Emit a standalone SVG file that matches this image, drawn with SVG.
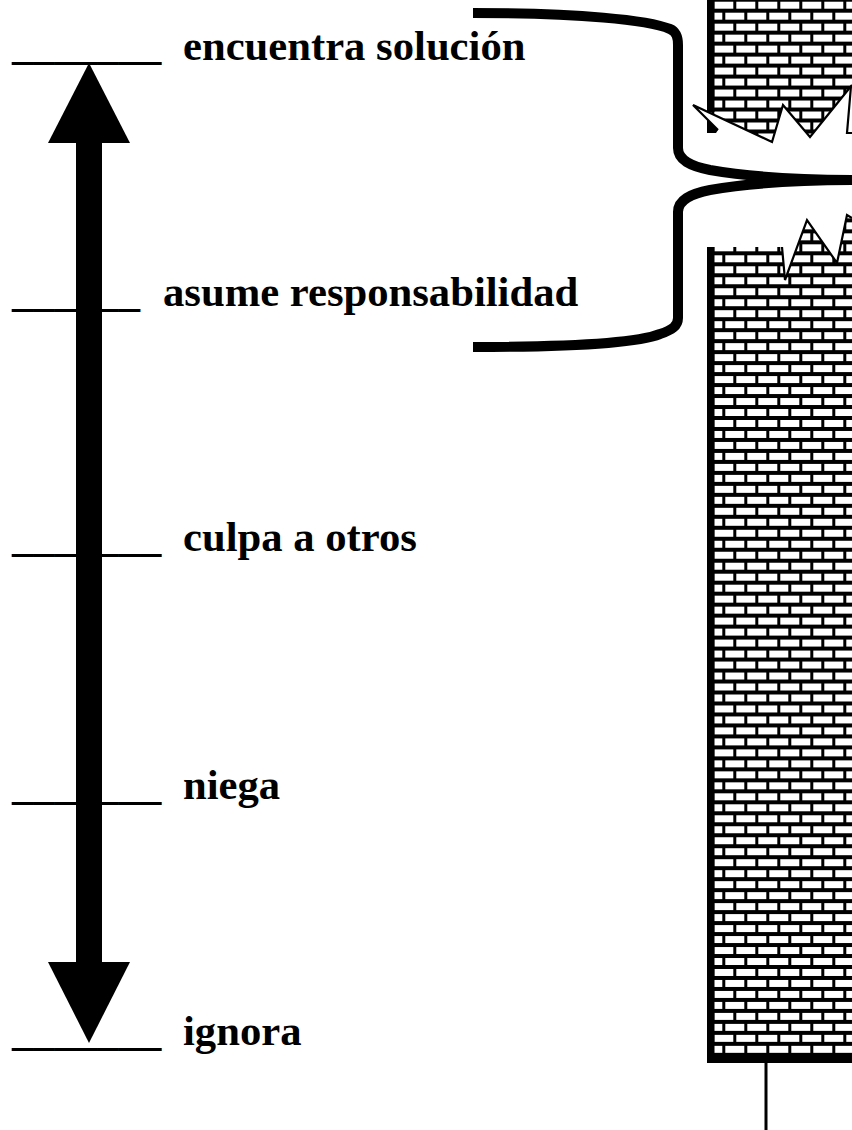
<svg xmlns="http://www.w3.org/2000/svg" width="852" height="1130" viewBox="0 0 852 1130">
  <style>
    .lbl { font-family: "Liberation Serif", "Times New Roman", serif; font-weight: bold; font-size: 42.67px; fill: #000; }
    .edge { fill: none; stroke: #000; stroke-width: 2.2; stroke-linejoin: miter; }
    .brace { fill: none; stroke: #000; stroke-width: 10; stroke-linecap: butt; }
    .mortar { stroke: #000; stroke-width: 3; shape-rendering: crispEdges; }
  </style>
  <defs>
    <pattern id="bricksUpper" patternUnits="userSpaceOnUse" x="701.3" y="10.7" width="22" height="21.96">
      <rect width="22" height="21.96" fill="#fff"/>
      <path class="mortar" d="M0,0H22M0,10.98H22M0,21.96H22M0,0V10.98M22,0V10.98M11,10.98V21.96"/>
    </pattern>
    <pattern id="bricksLower" patternUnits="userSpaceOnUse" x="701.3" y="253.3" width="22" height="21.96">
      <rect width="22" height="21.96" fill="#fff"/>
      <path class="mortar" d="M0,0H22M0,10.98H22M0,21.96H22M0,0V10.98M22,0V10.98M11,10.98V21.96"/>
    </pattern>
  </defs>
  <rect width="852" height="1130" fill="#fff"/>

  <!-- broken brick wall: upper piece -->
  <g id="wall-upper">
    <polygon points="707,0 852,0 852,85 810,137 783,105 772,142 707,111.6" fill="url(#bricksUpper)"/>
    <rect x="707" y="0" width="7.5" height="112" fill="#000"/>
    <polygon points="693,105 772,142 718,130" fill="#fff"/>
    <polygon points="707,119 718,130 716,133 707,133" fill="#000"/>
    <polyline class="edge" points="718,130 693,105 772,142 783,105 810,137 852,85"/>
    <polyline class="edge" points="851,86 847,133 852,133"/>
  </g>

  <!-- broken brick wall: lower piece -->
  <g id="wall-lower">
    <polygon points="707,247 782,247 785,280 807,220 837,263 847,215 852,218 852,1063 707,1063" fill="url(#bricksLower)"/>
    <rect x="707" y="247" width="7.5" height="816" fill="#000"/>
    <rect x="707" y="1055" width="145" height="8" fill="#000"/>
    <polyline class="edge" points="782,247 785,280 807,220 837,263 847,215 852,218"/>
    <rect x="764.5" y="1063" width="3" height="67" fill="#000"/>
  </g>

  <!-- curly brace grouping the two top levels -->
  <g id="brace">
    <path class="brace" d="M473,13 C580,13 648,20 670,29 C677,32 678,38 678,45 L678,148 C678,160 690,166 710,170 C750,177 800,180 860,180"/>
    <path class="brace" d="M860,180 C800,180 750,183 710,190 C690,194 678,200 678,212 L678,318 C678,326 672,330 660,334 C640,342 580,347 473,347"/>
  </g>

  <!-- scale levels -->
  <g id="level-encuentra">
    <text class="lbl" x="12" y="58.5">_______</text>
    <text class="lbl" x="183" y="60">encuentra solución</text>
  </g>
  <g id="level-asume">
    <text class="lbl" x="12" y="305.5">______</text>
    <text class="lbl" x="163" y="305.5">asume responsabilidad</text>
  </g>
  <g id="level-culpa">
    <text class="lbl" x="12" y="550.5">_______</text>
    <text class="lbl" x="183" y="551">culpa a otros</text>
  </g>
  <g id="level-niega">
    <text class="lbl" x="12" y="798.5">_______</text>
    <text class="lbl" x="183" y="799">niega</text>
  </g>
  <g id="level-ignora">
    <text class="lbl" x="12" y="1044.5">_______</text>
    <text class="lbl" x="183" y="1044.5">ignora</text>
  </g>

  <!-- double-headed scale arrow -->
  <g id="connectors">
    <rect x="76" y="140" width="26" height="825" fill="#000"/>
    <polygon points="89,63 130,143 48,143" fill="#000"/>
    <polygon points="48,962 130,962 89,1043" fill="#000"/>
  </g>
</svg>
